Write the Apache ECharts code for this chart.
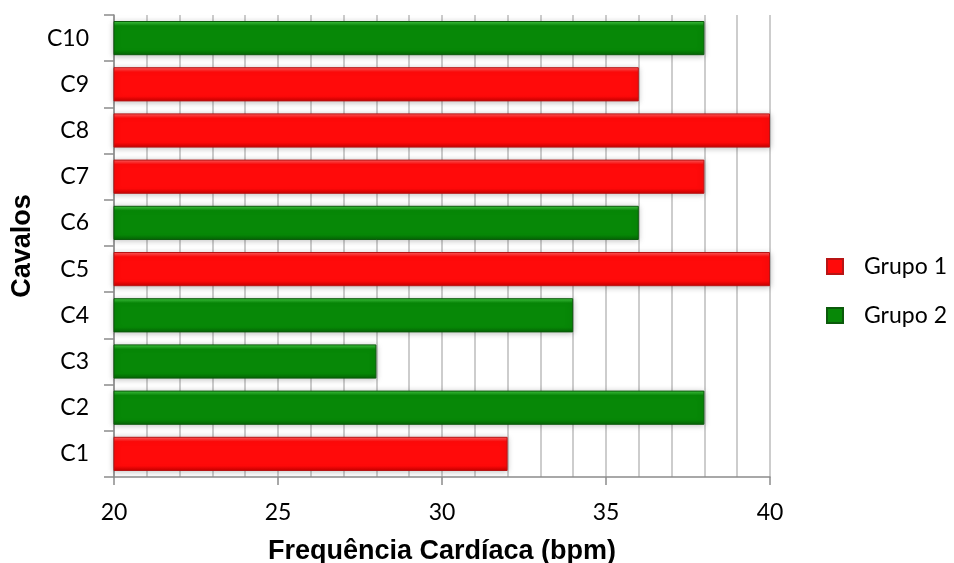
<!DOCTYPE html>
<html><head><meta charset="utf-8">
<script src="https://cdn.jsdelivr.net/npm/echarts@6/dist/echarts.min.js"></script>
<style>html,body{margin:0;padding:0;background:#fff}#c{width:954px;height:563px}</style>
</head><body><div id="c"></div>
<script>
const categories = ['C1','C2','C3','C4','C5','C6','C7','C8','C9','C10'];
const grupo1 = [32, '-', '-', '-', 40, '-', 38, 40, 36, '-'];
const grupo2 = ['-', 38, 28, 34, '-', 36, '-', '-', '-', 38];
const seriesNames = ['Grupo 1', 'Grupo 2'];

function grad(top, mid, bot) {
  return new echarts.graphic.LinearGradient(0, 0, 0, 1, [
    {offset: 0, color: top}, {offset: 0.14, color: mid}, {offset: 0.85, color: mid}, {offset: 1, color: bot}
  ]);
}
const chart = echarts.init(document.getElementById('c'), null, {renderer: 'canvas'});
const font = 'Lato, "Open Sans", sans-serif';
chart.setOption({
  animation: false,
  grid: {left: 114, right: 184, top: 15, bottom: 86, outerBoundsMode: 'none', containLabel: false},
  legend: {
    orient: 'vertical', left: 826, top: 255, itemGap: 26, padding: 0,
    itemWidth: 16, itemHeight: 15, icon: 'rect',
    textStyle: {fontFamily: font, fontSize: 23, color: '#000', padding: [0, 0, 0, 16]},
    data: seriesNames
  },
  xAxis: {
    type: 'value', min: 20, max: 40, interval: 5,
    name: 'Frequência Cardíaca (bpm)', nameLocation: 'middle', nameGap: 61,
    nameTextStyle: {fontFamily: '"Liberation Sans", Arial, sans-serif', fontWeight: 'bold', fontSize: 27, color: '#000'},
    axisLine: {show: true, lineStyle: {color: '#8c8c8c', width: 1.5}},
    axisTick: {show: true, length: 8, lineStyle: {color: '#8c8c8c', width: 1.5}},
    axisLabel: {fontFamily: font, fontSize: 23, color: '#000', margin: 24},
    splitLine: {show: true, lineStyle: {color: '#bdbdbd', width: 1.5}},
    minorTick: {show: false, splitNumber: 5},
    minorSplitLine: {show: true, lineStyle: {color: '#bdbdbd', width: 1.5}}
  },
  yAxis: {
    type: 'category', data: categories,
    name: 'Cavalos', nameLocation: 'middle', nameGap: 77, nameRotate: 90,
    nameTextStyle: {fontFamily: '"Liberation Sans", Arial, sans-serif', fontWeight: 'bold', fontSize: 27, color: '#000'},
    axisLine: {show: true, lineStyle: {color: '#8c8c8c', width: 1.5}},
    axisTick: {show: true, length: 10, lineStyle: {color: '#8c8c8c', width: 1.5}},
    axisLabel: {fontFamily: font, fontSize: 23, color: '#000', margin: 25},
    splitLine: {show: false}
  },
  series: [
    {
      name: seriesNames[0], type: 'bar', data: grupo1, barWidth: '74%', barGap: '-100%',
      itemStyle: {color: grad('#ff6060', '#ff0a0a', '#c80000'), borderColor: '#b81414', borderWidth: 1,
        shadowBlur: 6, shadowColor: 'rgba(0,0,0,0.25)', shadowOffsetY: 1}
    },
    {
      name: seriesNames[1], type: 'bar', data: grupo2, barWidth: '74%', barGap: '-100%',
      itemStyle: {color: grad('#44c844', '#078807', '#056505'), borderColor: '#0b5a0b', borderWidth: 1,
        shadowBlur: 6, shadowColor: 'rgba(0,0,0,0.25)', shadowOffsetY: 1}
    }
  ]
});
</script></body></html>
